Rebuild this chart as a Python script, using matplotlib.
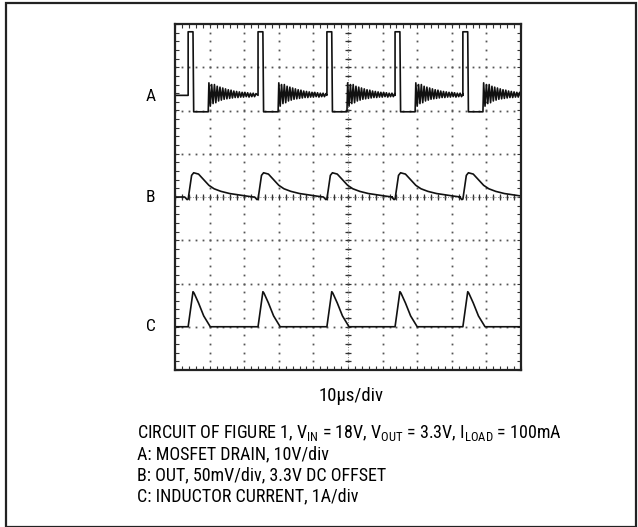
import numpy as np
import matplotlib.pyplot as plt
from matplotlib import font_manager
from matplotlib.patches import Rectangle

# pick a narrow sans face if one is installed
narrow = None
stretch = 'normal'
names = {f.name: f for f in font_manager.fontManager.ttflist}
for cand in ['Liberation Sans Narrow', 'Roboto Condensed', 'Open Sans Condensed',
             'DejaVu Sans Condensed', 'Noto Sans Condensed']:
    if cand in names:
        narrow = cand
        break
if narrow is None:
    for f in font_manager.fontManager.ttflist:
        if f.stretch in ('condensed', 'semi-condensed', 'extra-condensed') and f.style == 'normal' \
                and f.weight in (400, 'normal', 'regular'):
            narrow = f.name
            stretch = f.stretch
            break
if narrow is None:
    narrow = 'Liberation Sans'

plt.rcParams['font.family'] = [narrow, 'DejaVu Sans']
plt.rcParams['font.stretch'] = stretch
plt.rcParams['mathtext.fontset'] = 'custom'
plt.rcParams['mathtext.rm'] = narrow

# scope screen: 10 x 8 divisions, centre at (5, 0)
# switching edges (div)
pulse_t = [0.38, 2.40, 4.39, 6.36, 8.32]

# trace A: MOSFET drain, levels in div
a_base = 2.35
a_high = 3.82
a_low = 1.97
a_pulse_w = 0.14
a_low_end = 0.58
a_ring_step = 0.04
a_ring = [2.64, 2.10, 2.60, 2.16, 2.60, 2.18, 2.56, 2.22, 2.54, 2.24, 2.52, 2.26,
          2.50, 2.27, 2.48, 2.28, 2.47, 2.29, 2.45, 2.30, 2.44, 2.30, 2.43, 2.31,
          2.42, 2.31, 2.42, 2.32, 2.41, 2.31, 2.40, 2.32, 2.40, 2.32, 2.39]

# trace B: output ripple (one cycle, relative to edge)
b_t = [-0.10, -0.03, 0.0, 0.10, 0.16, 0.30, 0.45, 0.60, 0.75, 0.95, 1.20, 1.45, 1.70, 1.89]
b_v = [0.0, -0.06, -0.05, 0.50, 0.56, 0.53, 0.40, 0.27, 0.19, 0.13, 0.08, 0.05, 0.02, 0.0]

# trace C: inductor current (one cycle, relative to edge)
c_base = -3.0
c_t = [0.0, 0.14, 0.17, 0.30, 0.45, 0.64]
c_v = [-3.0, -2.19, -2.22, -2.45, -2.75, -3.0]


def build_a():
    xs, ys = [0.0], [a_base]
    for p in pulse_t:
        xs += [p, p, p + a_pulse_w, p + a_pulse_w + 0.02, p + a_low_end]
        ys += [a_base, a_high, a_high, a_low, a_low]
        for i, v in enumerate(a_ring):
            xs.append(p + a_low_end + 0.02 + i * a_ring_step)
            ys.append(v)
    return xs, ys


def build_b():
    xs, ys = [0.0], [0.0]
    for p in pulse_t:
        xs += [p + t for t in b_t]
        ys += b_v
    xs.append(10.0)
    ys.append(0.0)
    return xs, ys


def build_c():
    xs, ys = [0.0], [c_base]
    for p in pulse_t:
        xs += [p + t for t in c_t]
        ys += c_v
    xs.append(10.0)
    ys.append(c_base)
    return xs, ys


W, H = 638, 527
fig = plt.figure(figsize=(W / 100, H / 100), dpi=100)
fig.patches.append(Rectangle((6 / W, 0.5 / H), 630 / W, (H - 3) / H,
                             transform=fig.transFigure, fill=False,
                             edgecolor='#222222', linewidth=1.6))

ax = fig.add_axes([175 / W, 1 - 370 / H, 346 / W, 346 / H])
ax.set_xlim(0, 10)
ax.set_ylim(-4, 4)
for s in ax.spines.values():
    s.set_linewidth(1.6)
    s.set_color('#222222')
ax.set_xticks(np.arange(0, 10.01, 0.2))
ax.set_yticks(np.arange(-4, 4.01, 0.2))
ax.tick_params(direction='in', length=3, width=0.8, top=True, right=True,
               labelbottom=False, labelleft=False, color='#333333')

# dotted graticule
sub = np.arange(0, 10.01, 0.2)
suby = np.arange(-4, 4.01, 0.2)
for gx in range(1, 10):
    ax.plot(np.full(len(suby), gx), suby, 's', ms=1.3, color='#555555', mew=0)
for gy in range(-3, 4):
    ax.plot(sub, np.full(len(sub), gy), 's', ms=1.3, color='#555555', mew=0)
# centre cross with ticks
ax.plot(np.full(len(suby), 5), suby, '_', ms=5, mew=0.9, color='#333333')
ax.plot(sub, np.zeros(len(sub)), '|', ms=5, mew=0.9, color='#333333')
ax.axvline(5, color='#666666', lw=0.6, ls=(0, (1, 2)))
ax.axhline(0, color='#666666', lw=0.6, ls=(0, (1, 2)))

for build in (build_a, build_b, build_c):
    x, y = build()
    ax.plot(x, y, color='#111111', lw=1.2)

for lab, yv in (('A', 2.33), ('B', 0.0), ('C', -3.0)):
    ax.text(-0.7, yv, lab, ha='center', va='center', fontsize=12.5)

fig.text(351 / W, 1 - 401 / H, '10\u00b5s/div', ha='center', va='baseline', fontsize=13.5)

lines = [
    r'CIRCUIT OF FIGURE 1, V$_\mathregular{IN}$ = 18V, V$_\mathregular{OUT}$ = 3.3V, I$_\mathregular{LOAD}$ = 100mA',
    'A: MOSFET DRAIN, 10V/div',
    'B: OUT, 50mV/div, 3.3V DC OFFSET',
    'C: INDUCTOR CURRENT, 1A/div',
]
for i, t in enumerate(lines):
    fig.text(137 / W, 1 - (438 + 21 * i) / H, t, ha='left', va='baseline', fontsize=13.0)

fig.savefig('out.png', dpi=100)
